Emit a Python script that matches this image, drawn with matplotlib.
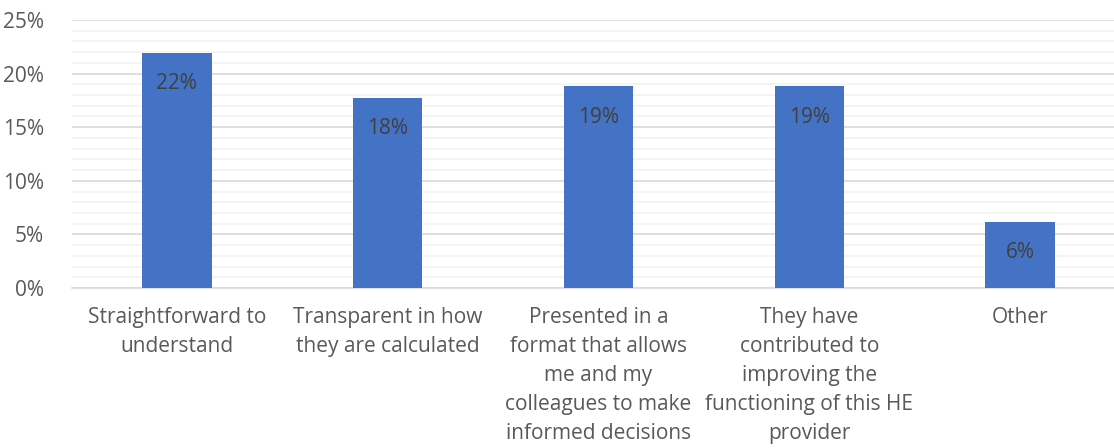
import matplotlib.pyplot as plt
from matplotlib.ticker import MultipleLocator, PercentFormatter

# Share of responses per statement (percent)
categories = [
    "Straightforward to\nunderstand",
    "Transparent in how\nthey are calculated",
    "Presented in a\nformat that allows\nme and my\ncolleagues to make\ninformed decisions",
    "They have\ncontributed to\nimproving the\nfunctioning of this HE\nprovider",
    "Other",
]
values = [21.9, 17.7, 18.8, 18.8, 6.2]

plt.rcParams["font.family"] = ["Open Sans", "DejaVu Sans"]

fig = plt.figure(figsize=(11.14, 4.48), dpi=100)
ax = fig.add_axes([71.5 / 1114, 160 / 448, 1054 / 1114, 268 / 448])

x = range(len(values))
bars = ax.bar(x, values, width=0.33, color="#4472C4", zorder=3)

# Data labels sit inside the bars, just below the top
for b, v in zip(bars, values):
    ax.annotate(f"{v:.0f}%", (b.get_x() + b.get_width() / 2, v),
                xytext=(0, -22), textcoords="offset points",
                ha="center", va="center", fontsize=15, color="#404040")

ax.set_xlim(-0.5, 4.5)
ax.set_ylim(0, 25)
ax.yaxis.set_major_locator(MultipleLocator(5))
ax.yaxis.set_minor_locator(MultipleLocator(1))
ax.yaxis.set_major_formatter(PercentFormatter(decimals=0))
ax.grid(axis="y", which="major", color="#D9D9D9", linewidth=1.2, zorder=0)
ax.grid(axis="y", which="minor", color="#F2F2F2", linewidth=1.2, zorder=0)

for s in ["top", "right", "left"]:
    ax.spines[s].set_visible(False)
ax.spines["bottom"].set_color("#D9D9D9")
ax.spines["bottom"].set_linewidth(1.2)

ax.set_xticks(list(x))
ax.set_xticklabels(categories, linespacing=1.5)
ax.tick_params(axis="both", which="both", length=0, labelsize=15,
               colors="#595959")
ax.tick_params(axis="x", pad=14)
ax.tick_params(axis="y", pad=20)

plt.savefig("out.png")
